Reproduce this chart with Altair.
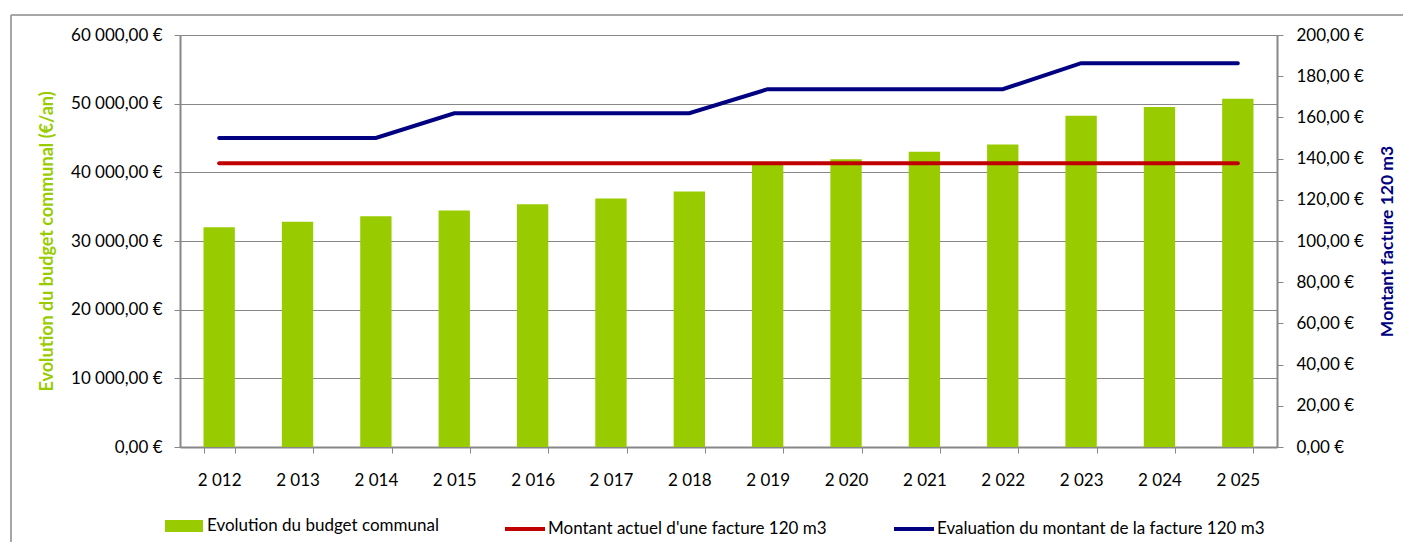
import altair as alt
import pandas as pd

years = [2012, 2013, 2014, 2015, 2016, 2017, 2018, 2019, 2020, 2021, 2022, 2023, 2024, 2025]
budget = [32000, 32800, 33600, 34450, 35350, 36200, 37200, 41100, 41900, 43000, 44050, 48250, 49500, 50700]
facture_actuelle = [137.7] * 14
facture_evaluation = [150, 150, 150, 162, 162, 162, 162, 173.7, 173.7, 173.7, 173.7, 186.3, 186.3, 186.3]

s_budget = "Evolution du budget communal"
s_actuel = "Montant actuel d'une facture 120 m3"
s_eval = "Evaluation du montant de la facture 120 m3"

left_ticks = [0, 10000, 20000, 30000, 40000, 50000, 60000]
right_ticks = [0, 20, 40, 60, 80, 100, 120, 140, 160, 180, 200]

df = pd.DataFrame({
    "year": years,
    "budget": budget,
    "actuel": facture_actuelle,
    "evaluation": facture_evaluation,
    "s1": [s_budget] * 14,
    "s2": [s_actuel] * 14,
    "s3": [s_eval] * 14,
})

FONT = "Lato"
GRAY = "#878787"
W, H = 1097, 412
LEG_Y = 472

euro_expr = "replace(replace(format(datum.value, ',.2f'), ',', ' '), '.', ',') + ' €'"

x_enc = alt.X(
    "year:O",
    title=None,
    scale=alt.Scale(paddingInner=0.6, paddingOuter=0.3),
    axis=alt.Axis(
        labelAngle=0,
        labelExpr="datum.value > 2000 ? replace(format(datum.value, ','), ',', ' ') : ''",
        tickBand="extent",
        tickSize=6,
        tickColor=GRAY,
        domainColor=GRAY,
        domainWidth=2,
        labelPadding=19,
        labelFont=FONT,
        labelFontSize=17,
        labelColor="#000000",
        grid=False,
    ),
)

bars = alt.Chart(df).mark_bar().encode(
    x=x_enc,
    y=alt.Y(
        "budget:Q",
        scale=alt.Scale(domain=[0, 60000]),
        axis=alt.Axis(
            orient="left",
            values=left_ticks,
            labelExpr=euro_expr,
            title="Evolution du budget communal (€/an)",
            titleColor="#99CC00",
            titleFont=FONT,
            titleFontSize=18,
            titleFontWeight="bold",
            titleAngle=270,
            titleX=-133,
            titleY=H / 2,
            titleAlign="center",
            titleBaseline="middle",
            labelFont=FONT,
            labelFontSize=17,
            labelColor="#000000",
            labelPadding=12,
            tickSize=6,
            tickColor=GRAY,
            domainColor=GRAY,
            domainWidth=2,
            grid=True,
            gridColor=GRAY,
            gridWidth=1,
        ),
    ),
    color=alt.Color(
        "s1:N",
        scale=alt.Scale(range=["#99CC00"]),
        legend=alt.Legend(
            orient="none",
            legendX=-15,
            legendY=LEG_Y,
            title=None,
            padding=0,
            symbolType="M-1,-0.32H1V0.32H-1Z",
            symbolSize=1444,
            symbolStrokeWidth=0,
            symbolFillColor="#99CC00",
            labelFont=FONT,
            labelFontSize=17,
            labelColor="#000000",
            labelOffset=4,
            labelLimit=400,
        ),
    ),
)

def line_layer(field, series, color, lx, show_axis):
    axis = alt.Axis(
        orient="right",
        values=right_ticks,
        labelExpr=euro_expr,
        title="Montant facture 120 m3",
        titleColor="#000080",
        titleFont=FONT,
        titleFontSize=17.5,
        titleFontWeight="bold",
        titleAngle=270,
        titleX=110,
        titleY=H / 2,
        titleAlign="center",
        titleBaseline="middle",
        labelFont=FONT,
        labelFontSize=17,
        labelColor="#000000",
        labelPadding=13,
        tickSize=6,
        tickColor=GRAY,
        domainColor=GRAY,
        domainWidth=2,
        grid=False,
    ) if show_axis else None
    return alt.Chart(df).mark_line(strokeWidth=4, strokeCap="round").encode(
        x=alt.X("year:O"),
        y=alt.Y(f"{field}:Q", scale=alt.Scale(domain=[0, 200]), axis=axis),
        color=alt.Color(
            f"{series}:N",
            scale=alt.Scale(range=[color]),
            legend=alt.Legend(
                orient="none",
                legendX=lx,
                legendY=LEG_Y,
                title=None,
                padding=0,
                symbolType="stroke",
                symbolSize=1600,
                symbolStrokeWidth=4,
                symbolStrokeColor=color,
                labelFont=FONT,
                labelFontSize=17,
                labelColor="#000000",
                labelOffset=1,
                labelLimit=500,
            ),
        ),
    )

red = line_layer("actuel", "s2", "#C00000", 323, True)
blue = line_layer("evaluation", "s3", "#000080", 712, False)

frame_top = alt.Chart(df).mark_rule(color="#a6a6a6", strokeWidth=1.5).encode(
    x=alt.value(-169), x2=alt.value(1223), y=alt.value(-20)
)
frame_left = alt.Chart(df).mark_rule(color="#a6a6a6", strokeWidth=1.5).encode(
    x=alt.value(-169), y=alt.value(-20), y2=alt.value(507)
)

chart = alt.layer(bars, red, blue, frame_top, frame_left).resolve_scale(
    y="independent", color="independent"
).properties(
    width=W,
    height=H,
    padding={"left": 172, "top": 27, "right": 126, "bottom": 95},
    autosize=alt.AutoSizeParams(type="none"),
).configure_view(stroke=None)

chart.save("out.html", embed_options={"renderer": "svg", "actions": False})
